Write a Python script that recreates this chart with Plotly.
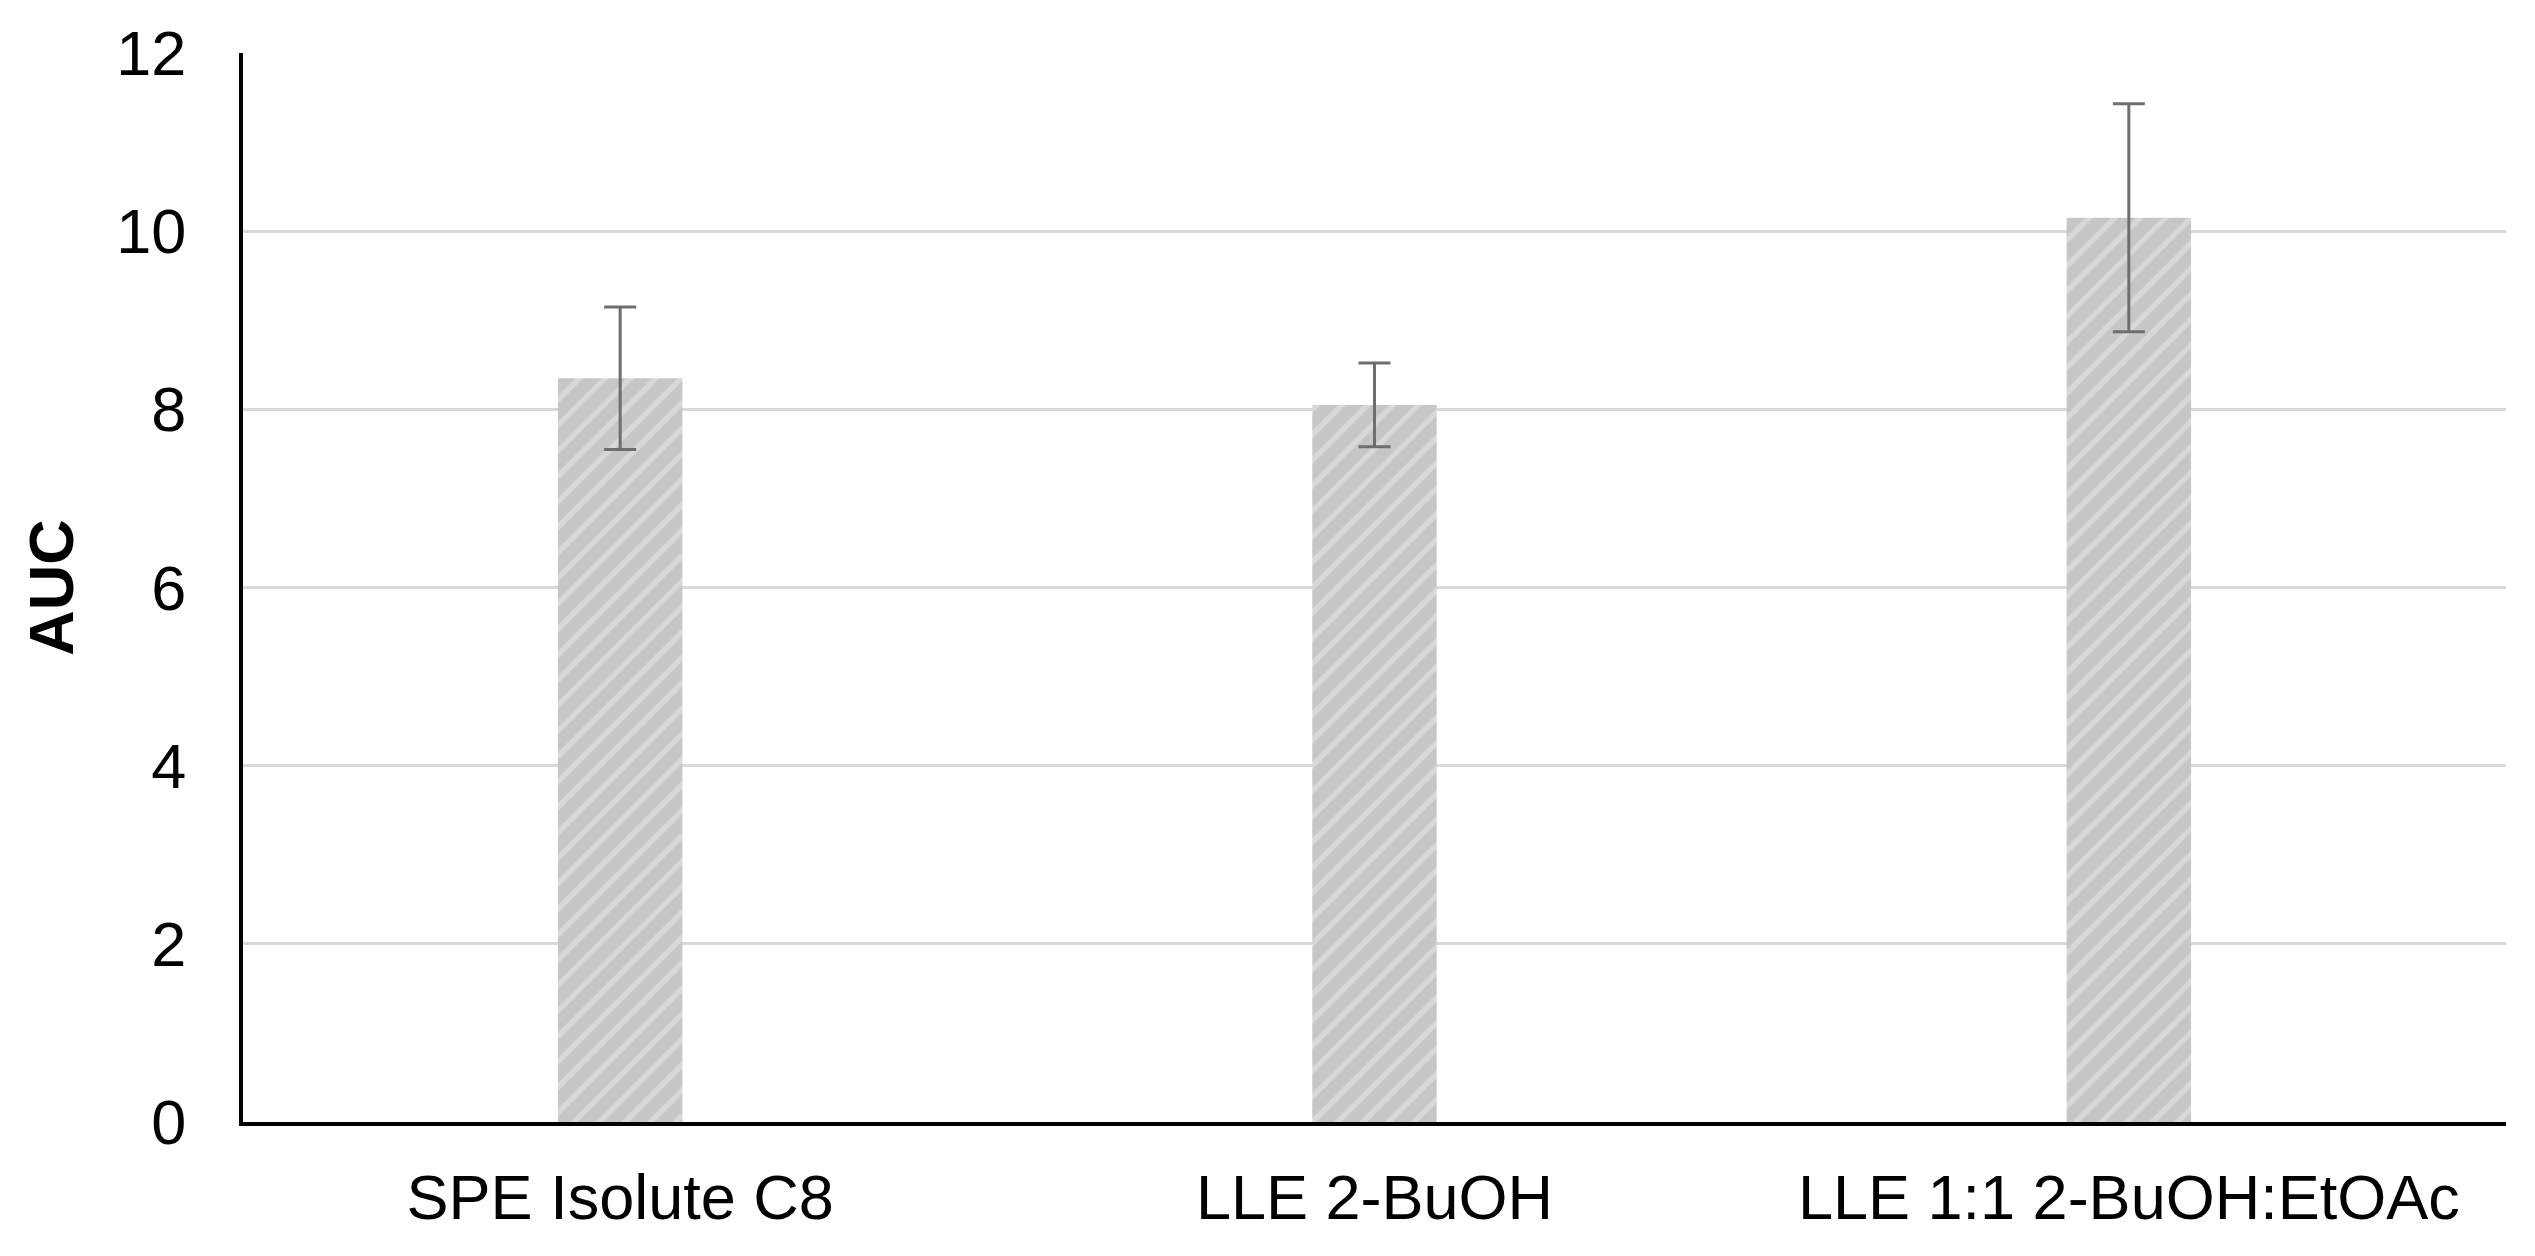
import plotly.graph_objects as go

categories = ["SPE Isolute C8", "LLE 2-BuOH", "LLE 1:1 2-BuOH:EtOAc"]
auc_values = [8.35, 8.05, 10.15]
auc_errors = [0.80, 0.47, 1.28]
y_ticks = [0, 2, 4, 6, 8, 10, 12]

FONT = "Liberation Sans, Arial, sans-serif"

fig = go.Figure()
fig.add_trace(go.Bar(
    x=categories,
    y=auc_values,
    width=0.165,
    marker=dict(
        color="#c6c6c6",
        line=dict(width=0),
        pattern=dict(shape="/", bgcolor="#c6c6c6", fgcolor="#e9e9e9",
                     size=18, solidity=0.3, fillmode="overlay"),
    ),
    error_y=dict(type="data", array=auc_errors, visible=True,
                 color="#6e6e6e", thickness=3, width=16),
    showlegend=False,
))

fig.update_layout(
    width=2519, height=1240,
    margin=dict(l=235, r=21, t=45, b=126, autoexpand=False),
    paper_bgcolor="white", plot_bgcolor="white",
    font=dict(family=FONT, size=63, color="black"),
    bargap=0.5,
)
fig.update_xaxes(
    showline=True, linecolor="black", linewidth=4,
    showgrid=False, ticks="", tickfont=dict(size=63),
    ticklabelstandoff=17, automargin=False,
)
fig.update_yaxes(
    range=[0, 12], tickvals=y_ticks,
    showline=True, linecolor="black", linewidth=4,
    showgrid=True, gridcolor="#d9d9d9", gridwidth=3,
    zeroline=False, ticks="", tickfont=dict(size=63),
    ticklabelstandoff=40, automargin=False,
    title=dict(text="<b>AUC</b>", font=dict(size=63), standoff=23),
)

fig.write_html("out.html")
